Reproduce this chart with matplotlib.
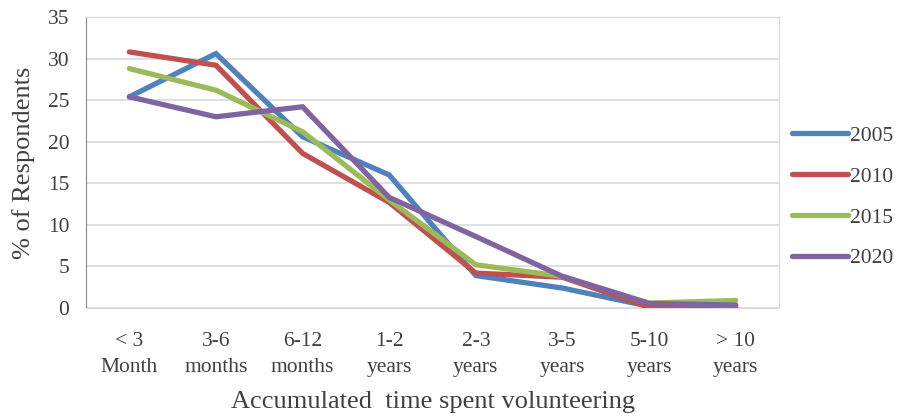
import matplotlib.pyplot as plt

categories = ['< 3\nMonth', '3-6\nmonths', '6-12\nmonths', '1-2\nyears',
              '2-3\nyears', '3-5\nyears', '5-10\nyears', '> 10\nyears']
years = ['2005', '2010', '2015', '2020']
y2005 = [25.4, 30.6, 20.6, 16.0, 3.9, 2.4, 0.2, 0.3]
y2010 = [30.8, 29.2, 18.6, 12.7, 4.2, 3.7, 0.1, 0.1]
y2015 = [28.8, 26.2, 21.2, 13.0, 5.2, 3.8, 0.6, 0.9]
y2020 = [25.4, 23.0, 24.2, 13.3, 8.6, 3.8, 0.55, 0.35]
colors = ['#4F81BD', '#C0504D', '#9BBB59', '#8064A2']

plt.rcParams['font.family'] = ['Liberation Serif', 'DejaVu Serif']
txt = '#404040'

fig = plt.figure(figsize=(8.99, 4.17), dpi=100)
ax = fig.add_axes([0.0957, 0.2614, 0.7708, 0.6978])

x = range(len(categories))
for vals, name, c in zip([y2005, y2010, y2015, y2020], years, colors):
    ax.plot(x, vals, color=c, lw=3.8, label=name, solid_capstyle='round',
            solid_joinstyle='miter')

ax.set_xlim(-0.5, len(categories) - 0.5)
ax.set_ylim(0, 35)
ax.set_yticks(range(0, 36, 5))
ax.set_xticks(list(x))
ax.set_xticklabels(categories, linespacing=1.5)
ax.tick_params(axis='both', length=0, labelsize=15.5, colors=txt)
ax.tick_params(axis='x', pad=17.5)
ax.tick_params(axis='y', pad=12)
ax.grid(axis='y', color='#D9D9D9', lw=1.2)
ax.set_axisbelow(True)
for side in ['top', 'right', 'bottom']:
    ax.spines[side].set_color('#D9D9D9')
ax.spines['left'].set_color('#868686')

ax.set_ylabel('% of Respondents', fontsize=19, color=txt, labelpad=9)
ax.set_xlabel('Accumulated  time spent volunteering', fontsize=19, color=txt,
              labelpad=10)

leg = fig.legend(loc='center left', bbox_to_anchor=(0.881, 0.5276),
                 bbox_transform=fig.transFigure, frameon=False,
                 fontsize=15.5, handlelength=2.6, labelspacing=0.97,
                 handletextpad=0.1, borderpad=0, borderaxespad=0)
for t in leg.get_texts():
    t.set_color(txt)

fig.savefig('out.png', dpi=100)
